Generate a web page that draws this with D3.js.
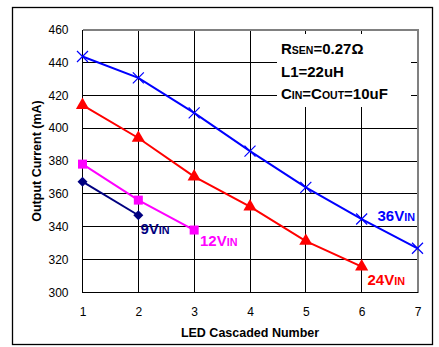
<!DOCTYPE html>
<html><head><meta charset="utf-8">
<script src="https://cdn.jsdelivr.net/npm/d3@7"></script>
<style>body{margin:0;background:#fff}svg{display:block;font-family:Arial,"Liberation Sans",sans-serif}</style>
</head><body><svg id="c" width="439" height="347"></svg>
<script>
const ledCount = [1,2,3,4,5,6,7];
const v36 = [443.6,430.6,409.3,386,364,344.7,326.9];
const v24 = [414,394,370.5,352.2,331.3,315.7];
const v12 = [378.1,356.2,338];
const v9  = [367.4,347];
const yTicks = [300,320,340,360,380,400,420,440,460];
const xTicks = [1,2,3,4,5,6,7];

const svg = d3.select("#c");
const L=82.5,R=417.5,T=29.5,B=292.5;
const x = d3.scaleLinear().domain([1,7]).range([L,R]);
const y = d3.scaleLinear().domain([300,460]).range([B,T]);
const snap = v => Math.round(v-0.5)+0.5;

// outer frame
svg.append("rect").attr("x",12.5).attr("y",7.5).attr("width",420).attr("height",337)
  .attr("fill","none").attr("stroke","#000").attr("stroke-width",1.3);

// grid
const g = svg.append("g").attr("shape-rendering","crispEdges");
g.selectAll("line.h").data(yTicks).join("line")
  .attr("x1",L).attr("x2",R).attr("y1",d=>snap(y(d))).attr("y2",d=>snap(y(d)))
  .attr("stroke","#000").attr("stroke-width",1);
g.selectAll("line.v").data(xTicks).join("line")
  .attr("y1",T).attr("y2",B).attr("x1",d=>snap(x(d))).attr("x2",d=>snap(x(d)))
  .attr("stroke","#000").attr("stroke-width",1);
// plot border
g.append("line").attr("x1",L).attr("x2",R+1).attr("y1",T).attr("y2",T).attr("stroke","#808080").attr("stroke-width",2);
g.append("line").attr("x1",R).attr("x2",R).attr("y1",T).attr("y2",B).attr("stroke","#808080").attr("stroke-width",2);
g.append("line").attr("x1",L).attr("x2",L).attr("y1",T).attr("y2",B).attr("stroke","#000").attr("stroke-width",1.5);
g.append("line").attr("x1",L).attr("x2",R).attr("y1",B).attr("y2",B).attr("stroke","#000").attr("stroke-width",1.5);

// annotation box
svg.append("rect").attr("x",277).attr("y",34).attr("width",134).attr("height",73).attr("fill","#fff");

// axes
const ya = d3.axisLeft(y).tickValues(yTicks).tickSize(0).tickPadding(14).tickFormat(d3.format("d"));
svg.append("g").attr("transform",`translate(${L},0)`).call(ya)
  .call(s=>s.select(".domain").remove())
  .selectAll("text").attr("font-size",12).attr("font-family","Arial,'Liberation Sans',sans-serif").attr("fill","#000");
const xa = d3.axisBottom(x).tickValues(xTicks).tickSize(0).tickPadding(15).tickFormat(d3.format("d"));
svg.append("g").attr("transform",`translate(0,${B})`).call(xa)
  .call(s=>s.select(".domain").remove())
  .selectAll("text").attr("font-size",12).attr("font-family","Arial,'Liberation Sans',sans-serif").attr("fill","#000");

svg.append("text").attr("x",250).attr("y",337).attr("text-anchor","middle")
  .attr("font-size",12.5).attr("font-weight","bold").text("LED Cascaded Number");
svg.append("text").attr("transform",`translate(41,${(T+B)/2}) rotate(-90)`).attr("text-anchor","middle")
  .attr("font-size",12.5).attr("font-weight","bold").text("Output Current (mA)");

// series
const line = d3.line().x((d,i)=>x(ledCount[i])).y(d=>y(d));
const series = [
  {vals:v36,color:"#0000FF",shape:"x"},
  {vals:v24,color:"#FF0000",shape:"tri"},
  {vals:v12,color:"#FF00FF",shape:"sq"},
  {vals:v9,color:"#000080",shape:"dia"}
];
series.forEach(s=>{
  svg.append("path").attr("d",line(s.vals)).attr("fill","none").attr("stroke",s.color).attr("stroke-width",2);
  const m = svg.append("g");
  s.vals.forEach((v,i)=>{
    const cx=x(ledCount[i]), cy=y(v);
    if(s.shape==="x"){
      m.append("path").attr("d",`M${cx-5.5},${cy-5.5}L${cx+5.5},${cy+5.5}M${cx-5.5},${cy+5.5}L${cx+5.5},${cy-5.5}`)
        .attr("stroke",s.color).attr("stroke-width",1.2);
    } else if(s.shape==="tri"){
      m.append("path").attr("d",d3.symbol(d3.symbolTriangle,75)()).attr("transform",`translate(${cx},${cy})`).attr("fill",s.color);
    } else if(s.shape==="sq"){
      m.append("rect").attr("x",cx-4.5).attr("y",cy-4.5).attr("width",9).attr("height",9).attr("fill",s.color);
    } else {
      m.append("path").attr("d",`M${cx},${cy-5}L${cx+5},${cy}L${cx},${cy+5}L${cx-5},${cy}Z`).attr("fill",s.color);
    }
  });
});

// series labels
function sub(main,subt,xx,yy,color,size){
  const t=svg.append("text").attr("x",xx).attr("y",yy).attr("fill",color).attr("font-weight","bold").attr("font-size",size);
  t.append("tspan").text(main);
  t.append("tspan").attr("font-size",size*0.72).text(subt);
  return t;
}
sub("9V","IN",140.5,234,"#000080",15);
sub("12V","IN",200,246,"#FF00FF",15);
sub("36V","IN",377.5,221,"#0000FF",15);
sub("24V","IN",367.5,284.5,"#FF0000",15);

// annotation text
const ann=[["R","SEN","=0.27Ω"],["L1=22uH","",""],["C","IN","=C","OUT","=10uF"]];
const ay=[54,76.5,98.5];
ann.forEach((parts,i)=>{
  const t=svg.append("text").attr("x",281).attr("y",ay[i]).attr("font-weight","bold").attr("font-size",15).attr("fill","#000");
  parts.forEach((p,j)=>{ if(p) t.append("tspan").attr("font-size",j%2===1?10.5:15).text(p); });
});
</script></body></html>
